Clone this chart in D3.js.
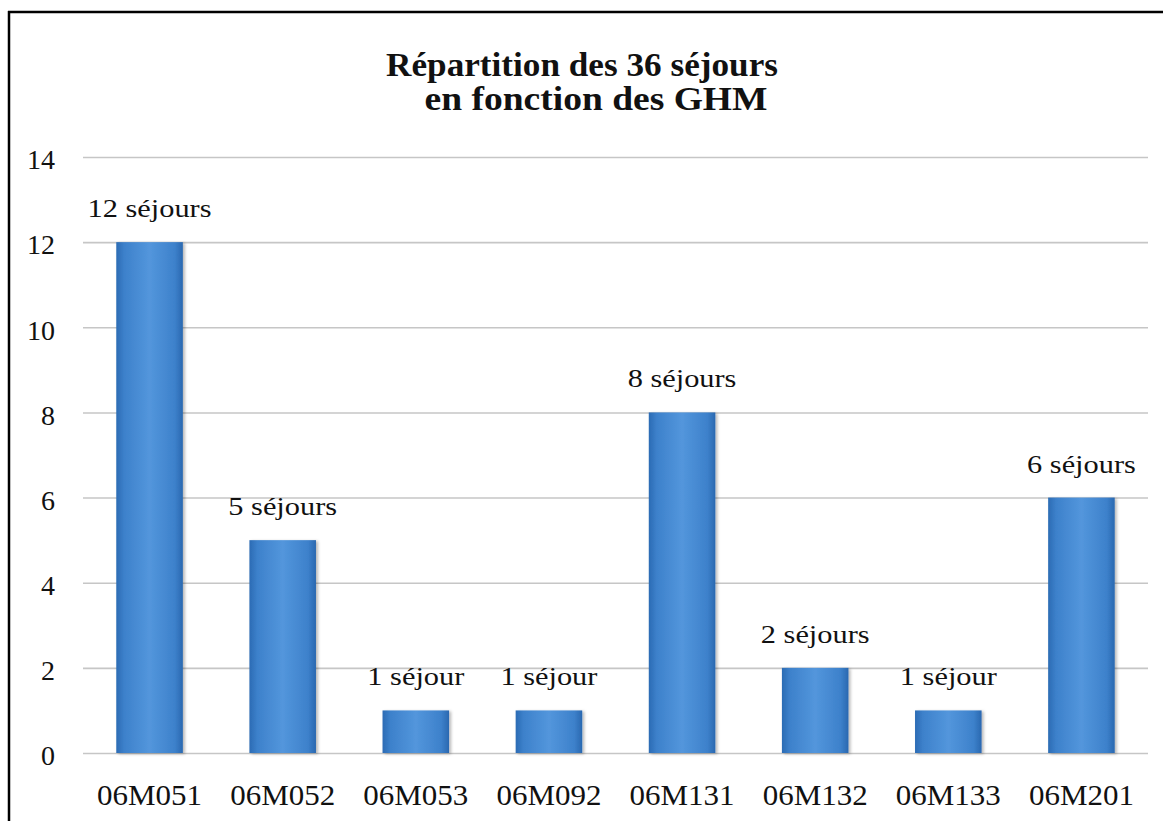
<!DOCTYPE html>
<html lang="fr">
<head>
<meta charset="utf-8">
<script src="https://cdn.jsdelivr.net/npm/d3@7"></script>
<style>
  html, body { margin: 0; padding: 0; background: #ffffff; }
  svg { display: block; }
  svg text { font-family: "Liberation Serif", "Tinos", "Times New Roman", Times, "DejaVu Serif", serif; fill: #111; }
</style>
</head>
<body>
<div id="chart"></div>
<script>
// GHM codes and number of stays per code
const categories = ["06M051", "06M052", "06M053", "06M092", "06M131", "06M132", "06M133", "06M201"];
const values = [12, 5, 1, 1, 8, 2, 1, 6];
const valueLabels = ["12 séjours", "5 séjours", "1 séjour", "1 séjour", "8 séjours", "2 séjours", "1 séjour", "6 séjours"];
const yTicks = [0, 2, 4, 6, 8, 10, 12, 14];
const titleLines = ["Répartition des 36 séjours", "en fonction des GHM"];

const width = 1171, height = 821;
const svg = d3.select("#chart").append("svg")
  .attr("width", width).attr("height", height);

const defs = svg.append("defs");
const grad = defs.append("linearGradient").attr("id", "barFill")
  .attr("x1", "0%").attr("x2", "100%").attr("y1", "0%").attr("y2", "0%");
[["0%", "#2b6bb4"], ["12%", "#3d81cb"], ["50%", "#5396dc"], ["88%", "#3d81cb"], ["100%", "#2a68b0"]]
  .forEach(([o, c]) => grad.append("stop").attr("offset", o).attr("stop-color", c));

const shadow = defs.append("filter").attr("id", "barShadow")
  .attr("x", "-20%").attr("y", "-5%").attr("width", "150%").attr("height", "115%");
shadow.append("feDropShadow").attr("dx", 2).attr("dy", 1).attr("stdDeviation", 1.6)
  .attr("flood-color", "#000").attr("flood-opacity", 0.28);

// frame
svg.append("line").attr("x1", 8).attr("x2", 1163).attr("y1", 12).attr("y2", 12)
  .attr("stroke", "#000").attr("stroke-width", 2.5);
svg.append("line").attr("x1", 9).attr("x2", 9).attr("y1", 11).attr("y2", height)
  .attr("stroke", "#000").attr("stroke-width", 2.5);

const x = d3.scaleBand().domain(categories).range([83, 1148])
  .paddingInner(0.5).paddingOuter(0.25);
const y = d3.scaleLinear().domain([0, 14]).range([753, 157]);

// horizontal stretch so that a string spans a given width
function stretchFactor(node, targetWidth) {
  const w = node.getComputedTextLength();
  return w > 0 ? targetWidth / w : 1;
}

// title, two centred lines
const titleCenter = [582, 596], titleBase = [76, 110], titleWidth = [392, 343];
svg.selectAll("text.title").data(titleLines).join("text")
  .attr("class", "title")
  .attr("text-anchor", "middle")
  .attr("font-weight", "bold")
  .attr("font-size", 33)
  .text(d => d)
  .each(function (d, i) {
    const k = stretchFactor(this, titleWidth[i]);
    d3.select(this).attr("transform", `translate(${titleCenter[i]},${titleBase[i]}) scale(${k},1)`);
  });

// horizontal gridlines
const gridAxis = d3.axisLeft(y).tickValues(yTicks).tickSize(-(1148 - 83)).tickFormat("");
const grid = svg.append("g").attr("transform", "translate(83,0)").call(gridAxis);
grid.select(".domain").remove();
grid.selectAll(".tick line").attr("stroke", "#c6c6c6").attr("stroke-width", 1.6);

// y tick labels
const yAxis = d3.axisLeft(y).tickValues(yTicks).tickSize(0).tickPadding(0);
const ya = svg.append("g").attr("transform", "translate(55,0)").call(yAxis)
  .attr("font-family", null).attr("font-size", null);
ya.select(".domain").remove();
const yt = ya.selectAll(".tick text")
  .attr("font-size", 28)
  .attr("fill", "#111")
  .attr("dy", "0.42em");
const kY = stretchFactor(yt.nodes()[7], 28);
yt.attr("transform", `scale(${kY},1)`);

// bars
svg.append("g").selectAll("rect").data(values).join("rect")
  .attr("x", (d, i) => x(categories[i]))
  .attr("y", d => y(d))
  .attr("width", x.bandwidth())
  .attr("height", d => y(0) - y(d))
  .attr("fill", "url(#barFill)")
  .attr("filter", "url(#barShadow)");

// value labels above bars
const vLabels = svg.append("g").selectAll("text").data(values).join("text")
  .attr("text-anchor", "middle")
  .attr("font-size", 25)
  .text((d, i) => valueLabels[i]);
const kV = stretchFactor(vLabels.nodes()[0], 124);
vLabels.attr("transform", (d, i) =>
  `translate(${x(categories[i]) + x.bandwidth() / 2},${y(d) - 25}) scale(${kV},1)`);

// x axis labels
const xAxis = d3.axisBottom(x).tickSize(0).tickPadding(0);
const xa = svg.append("g").attr("transform", "translate(0,753)").call(xAxis)
  .attr("font-family", null).attr("font-size", null);
xa.select(".domain").remove();
const xt = xa.selectAll(".tick text")
  .attr("font-size", 29)
  .attr("fill", "#111")
  .attr("dy", 0)
  .attr("y", 0)
  .attr("x", 0);
const kX = stretchFactor(xt.nodes()[0], 105);
xt.attr("transform", `translate(0,52) scale(${kX},1)`);
</script>
</body>
</html>
